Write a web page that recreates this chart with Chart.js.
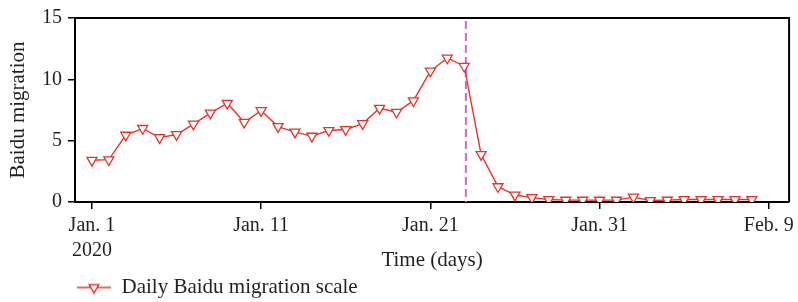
<!DOCTYPE html>
<html>
<head>
<meta charset="utf-8">
<script src="https://cdn.jsdelivr.net/npm/chart.js@4"></script>
<style>
  html, body { margin: 0; padding: 0; background: #fff; }
  #wrap { width: 798px; height: 302px; }
</style>
</head>
<body>
<div id="wrap"><canvas id="grafico"></canvas></div>
<script>
// dados (1 jan 2020 -> 8 fev 2020)
const dias = ['Jan 1', 'Jan 2', 'Jan 3', 'Jan 4', 'Jan 5', 'Jan 6', 'Jan 7', 'Jan 8', 'Jan 9', 'Jan 10',
              'Jan 11', 'Jan 12', 'Jan 13', 'Jan 14', 'Jan 15', 'Jan 16', 'Jan 17', 'Jan 18', 'Jan 19', 'Jan 20',
              'Jan 21', 'Jan 22', 'Jan 23', 'Jan 24', 'Jan 25', 'Jan 26', 'Jan 27', 'Jan 28', 'Jan 29', 'Jan 30',
              'Jan 31', 'Feb 1', 'Feb 2', 'Feb 3', 'Feb 4', 'Feb 5', 'Feb 6', 'Feb 7', 'Feb 8', 'Feb 9']
const migracao = [3.4, 3.45, 5.45, 6.0, 5.25, 5.5, 6.35, 7.25, 8.05, 6.5,
                  7.45, 6.15, 5.7, 5.37, 5.83, 5.91, 6.39, 7.64, 7.32, 8.26,
                  10.67, 11.74, 11.07, 3.87, 1.25, 0.57, 0.36, 0.2, 0.15, 0.15,
                  0.15, 0.15, 0.4, 0.12, 0.15, 0.2, 0.2, 0.2, 0.2, 0.2]
const tickDias = [0, 10, 20, 30, 40]
const tickLabels = ['Jan. 1', 'Jan. 11', 'Jan. 21', 'Jan. 31', 'Feb. 9']
const ano = '2020'
const yTicks = [0, 5, 10, 15]
const lockdown = 22.1   // linha tracejada (23 jan)

const vermelho = 'rgb(234, 50, 40)'
const magenta = 'rgb(212, 100, 212)'
const texto = '#231f20'
const fonte = { family: "'Liberation Serif', 'DejaVu Serif', serif", size: 20 }

// icone da legenda: linha + triangulo
var icone = document.createElement('canvas')
icone.width = 34
icone.height = 14
var ic = icone.getContext('2d')
ic.strokeStyle = vermelho
ic.lineWidth = 1.4
ic.beginPath(); ic.moveTo(0, 7); ic.lineTo(34, 7); ic.stroke()
ic.fillStyle = '#fff'
ic.beginPath()
ic.moveTo(17 - 4.8, 4.2); ic.lineTo(17 + 4.8, 4.2); ic.lineTo(17, 12.5); ic.closePath()
ic.fill(); ic.stroke()

// moldura em cima e a direita
const moldura = {
    id: 'moldura',
    afterDatasetsDraw(chart) {
        const a = chart.chartArea
        const ctx = chart.ctx
        ctx.save()
        ctx.strokeStyle = '#000'
        ctx.lineWidth = 2
        ctx.beginPath()
        ctx.moveTo(a.left, a.top)
        ctx.lineTo(a.right, a.top)
        ctx.lineTo(a.right, a.bottom)
        ctx.stroke()
        ctx.restore()
    }
}

Chart.defaults.color = texto
Chart.defaults.font = fonte

const dataLinha = {
    datasets: [{
        label: 'Daily Baidu migration scale',
        data: migracao.map((v, i) => ({ x: dias.indexOf(dias[i]), y: v })),
        borderColor: vermelho,
        borderWidth: 1.4,
        backgroundColor: '#fff',
        pointStyle: 'triangle',
        pointRotation: 180,
        pointRadius: 5.8,
        pointBorderWidth: 1.3,
        pointBorderColor: vermelho,
        pointBackgroundColor: '#fff',
        tension: 0
    }, {
        label: 'lockdown',
        data: [{ x: lockdown, y: 14.75 }, { x: lockdown, y: 0 }],
        borderColor: magenta,
        borderWidth: 2,
        borderDash: [8, 4],
        pointRadius: 0,
        order: 1
    }]
}

const configLinha = {
    type: 'line',
    data: dataLinha,
    options: {
        responsive: false,
        animation: false,
        layout: { padding: { top: 15, right: 4, bottom: 0, left: 0 } },
        scales: {
            x: {
                type: 'linear',
                min: -1,
                max: 41.2,
                afterBuildTicks: (s) => { s.ticks = tickDias.map(v => ({ value: v })) },
                afterFit: (s) => { s.height = 73 },
                ticks: {
                    padding: 4,
                    font: { size: 20, lineHeight: 1.25 },
                    callback: (v) => {
                        const i = tickDias.indexOf(v)
                        if (i === 0) return [tickLabels[0], ano]
                        return i >= 0 ? tickLabels[i] : ''
                    }
                },
                grid: { drawOnChartArea: false, drawTicks: true, tickLength: 7, color: '#000', lineWidth: 1.5 },
                border: { color: '#000', width: 2 },
                title: { display: true, text: 'Time (days)', font: { size: 21 }, padding: { top: 0, bottom: 2 } }
            },
            y: {
                min: 0,
                max: 15,
                afterBuildTicks: (s) => { s.ticks = yTicks.map(v => ({ value: v })) },
                afterFit: (s) => { s.width = 75 },
                ticks: { padding: 6 },
                grid: { drawOnChartArea: false, drawTicks: true, tickLength: 7, color: '#000', lineWidth: 1.5 },
                border: { color: '#000', width: 2 },
                title: { display: true, text: 'Baidu migration', font: { size: 21 }, padding: { top: 6, bottom: 0 } }
            }
        },
        plugins: {
            tooltip: { enabled: false },
            legend: {
                position: 'bottom',
                align: 'start',
                fullSize: false,
                maxHeight: 27,
                labels: {
                    padding: 2,
                    font: { size: 21 },
                    usePointStyle: true,
                    pointStyleWidth: 34,
                    filter: (item) => item.datasetIndex === 0,
                    generateLabels: (chart) => [{
                        text: chart.data.datasets[0].label,
                        pointStyle: icone,
                        fontColor: texto,
                        datasetIndex: 0,
                        hidden: false
                    }]
                }
            }
        }
    },
    plugins: [moldura]
}

var c = document.getElementById('grafico')
c.width = 798
c.height = 302
var grafico = new Chart(c, configLinha)
</script>
</body>
</html>
